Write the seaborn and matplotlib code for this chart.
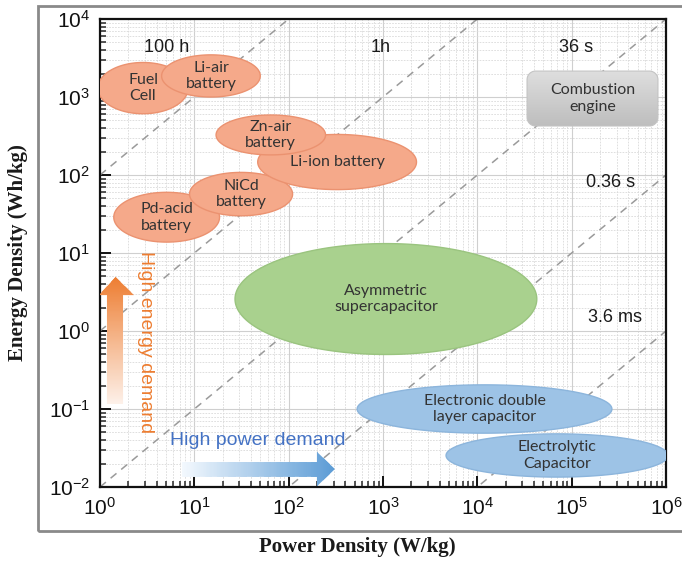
import numpy as np
import pandas as pd
import matplotlib
matplotlib.use("Agg")
import matplotlib.pyplot as plt
import seaborn as sns
from matplotlib.ticker import FuncFormatter, LogLocator, NullFormatter
from matplotlib.patches import Rectangle
from matplotlib.colors import to_rgb

# Storage technologies: power density span (W/kg) and energy density span (Wh/kg)
tech_names = ["Pd-acid\nbattery", "NiCd\nbattery", "Li-ion battery", "Zn-air\nbattery",
              "Fuel\nCell", "Li-air\nbattery", "Asymmetric\nsupercapacitor",
              "Electronic double\nlayer capacitor", "Electrolytic\nCapacitor"]
tech_group = ["battery", "battery", "battery", "battery", "battery", "battery",
              "supercap", "capacitor", "capacitor"]
power_lo = [1.4, 8.9, 47, 17, 0.95, 4.5, 27, 532, 4660]
power_hi = [18.5, 110, 2265, 246, 8.6, 50, 42700, 267000, 1.05e6]
energy_lo = [13.8, 30, 65, 181, 610, 1000, 0.5, 0.049, 0.0134]
energy_hi = [60, 108, 331, 588, 2770, 3470, 13.2, 0.204, 0.048]

# Combustion engine block
engine_power = [33650, 822000]
engine_energy = [425, 2150]

# Constant discharge-time lines (hours) and their labels
discharge_hours = [100, 1, 0.01, 1e-4, 1e-6]
time_labels = ["100 h", "1h", "36 s", "0.36 s", "3.6 ms"]
label_power = [5.1, 933, 112000, 257000, 288000]
label_energy = [4365, 4365, 4365, 81, 1.47]

group_face = {"battery": "#f5a98a", "supercap": "#a9d18e", "capacitor": "#9dc3e6"}
group_edge = {"battery": "#eb9270", "supercap": "#9ac47f", "capacitor": "#8cb5dc"}

sns.set_theme(style="white")
plt.rcParams["font.family"] = ["Liberation Sans", "DejaVu Sans"]
plt.rcParams["mathtext.fontset"] = "custom"
plt.rcParams["mathtext.rm"] = "Liberation Sans"
plt.rcParams["mathtext.it"] = "Liberation Sans:italic"

fig = plt.figure(figsize=(6.82, 5.62), dpi=100)
ax = fig.add_axes([100 / 682, 1 - 487 / 562, 566 / 682, 468 / 562])
ax.set_xscale("log")
ax.set_yscale("log")

# constant-time guide lines
p_range = np.array([1.0, 1e6])
lines_df = pd.concat([pd.DataFrame({"P": p_range, "E": p_range * t, "t": str(t)})
                      for t in discharge_hours], ignore_index=True)
for t, sub in lines_df.groupby("t", sort=False):
    sns.lineplot(data=sub, x="P", y="E", ax=ax, color="#9a9a9a", lw=1.1,
                 linestyle=(0, (5, 4)), zorder=2)

ax.set_xlim(1, 1e6)
ax.set_ylim(1e-2, 1e4)


def log_fill(lx, ly, **kw):
    return ax.fill(10 ** np.asarray(lx), 10 ** np.asarray(ly), **kw)[0]


def gradient_fill(lx, ly, c0, c1, direction, n=140, zorder=3):
    clip = log_fill(lx, ly, facecolor="none", edgecolor="none", zorder=zorder)
    c0, c1 = np.array(to_rgb(c0)), np.array(to_rgb(c1))
    lo = min(lx) if direction == "x" else min(ly)
    hi = max(lx) if direction == "x" else max(ly)
    edges = np.linspace(lo, hi, n + 1)
    eps = (hi - lo) / n * 0.6
    for i in range(n):
        f = (i + 0.5) / n
        col = (1 - f) * c0 + f * c1
        a, b = edges[i], edges[i + 1] + eps
        if direction == "x":
            sx, sy = [a, b, b, a], [min(ly), min(ly), max(ly), max(ly)]
        else:
            sx, sy = [min(lx), max(lx), max(lx), min(lx)], [a, a, b, b]
        strip = log_fill(sx, sy, color=col, lw=0, zorder=zorder)
        strip.set_clip_path(clip)
    return clip


# technology ellipses, built in log-space
theta = np.linspace(0, 2 * np.pi, 300)
for name, grp, p0, p1, e0, e1 in zip(tech_names, tech_group, power_lo, power_hi,
                                     energy_lo, energy_hi):
    cx, cy = (np.log10(p0) + np.log10(p1)) / 2, (np.log10(e0) + np.log10(e1)) / 2
    rx, ry = (np.log10(p1) - np.log10(p0)) / 2, (np.log10(e1) - np.log10(e0)) / 2
    log_fill(cx + rx * np.cos(theta), cy + ry * np.sin(theta),
             facecolor=group_face[grp], edgecolor=group_edge[grp], lw=1.0, zorder=3)
    ax.text(10 ** cx, 10 ** cy, name, ha="center", va="center", fontsize=11.5,
            family=["Lato", "DejaVu Sans"], color="#333333", linespacing=1.25, zorder=6)

# combustion engine: rounded box with a soft vertical gradient
x0, x1 = np.log10(engine_power)
y0, y1 = np.log10(engine_energy)
rxc, ryc = 0.09, 0.11
arc = np.linspace(0, np.pi / 2, 12)
bx = np.concatenate([x1 - rxc + rxc * np.cos(arc), x0 + rxc - rxc * np.sin(arc),
                     x0 + rxc - rxc * np.cos(arc), x1 - rxc + rxc * np.sin(arc)])
by = np.concatenate([y1 - ryc + ryc * np.sin(arc), y1 - ryc + ryc * np.cos(arc),
                     y0 + ryc - ryc * np.sin(arc), y0 + ryc - ryc * np.cos(arc)])
gradient_fill(bx, by, "#bdbdbd", "#dedede", "y")
log_fill(bx, by, facecolor="none", edgecolor="#c4c4c4", lw=0.8, zorder=4)
ax.text(np.sqrt(engine_power[0] * engine_power[1]), np.sqrt(engine_energy[0] * engine_energy[1]),
        "Combustion\nengine", ha="center", va="center", fontsize=11.5,
        family=["Lato", "DejaVu Sans"], color="#333333", linespacing=1.25, zorder=6)

# demand arrows
ox = [0.074, 0.244, 0.244, 0.36, 0.165, -0.011, 0.074]
oy = [-0.936, -0.936, 0.46, 0.46, 0.692, 0.46, 0.46]
gradient_fill(ox, oy, "#fdf1ea", "#ed7d31", "y")
bxa = [0.869, 2.30, 2.30, 2.49, 2.30, 2.30, 0.869]
bya = [-1.87, -1.87, -1.99, -1.77, -1.55, -1.68, -1.68]
gradient_fill(bxa, bya, "#f4f9fe", "#5b9bd5", "x")

ax.text(10 ** 0.48, 10 ** -0.14, "High energy demand", rotation=-90, ha="center",
        va="center", fontsize=14, color="#ed7d31", zorder=6)
ax.text(10 ** 1.675, 10 ** -1.40, "High power demand", ha="center", va="center",
        fontsize=14, color="#4472c4", zorder=6)

for lab, px, ey in zip(time_labels, label_power, label_energy):
    ax.text(px, ey, lab, ha="center", va="center", fontsize=13, color="#1a1a1a", zorder=6)

# grid, ticks, spines
ax.xaxis.set_major_locator(LogLocator(base=10, numticks=10))
ax.yaxis.set_major_locator(LogLocator(base=10, numticks=10))
ax.xaxis.set_minor_locator(LogLocator(base=10, subs=np.arange(2, 10), numticks=20))
ax.yaxis.set_minor_locator(LogLocator(base=10, subs=np.arange(2, 10), numticks=20))
ax.xaxis.set_minor_formatter(NullFormatter())
ax.yaxis.set_minor_formatter(NullFormatter())
fmt = FuncFormatter(lambda v, _: r"$\mathregular{10^{%d}}$" % int(round(np.log10(v))))
ax.xaxis.set_major_formatter(fmt)
ax.yaxis.set_major_formatter(fmt)
ax.grid(which="major", color="#cfcfcf", lw=0.8, ls="-", zorder=0)
ax.grid(which="minor", color="#d9d9d9", lw=0.6, ls=(0, (2, 1.5)), zorder=0)
ax.set_axisbelow(True)
ax.tick_params(which="major", direction="in", length=8, width=1.4, labelsize=15,
               colors="#111111", pad=7, top=False, right=False, bottom=True, left=True)
ax.tick_params(which="minor", direction="in", length=4.5, width=1.1,
               top=False, right=False, bottom=True, left=True)
for sp in ax.spines.values():
    sp.set_color("#111111")
    sp.set_linewidth(1.6)

ax.set_xlabel("Power Density (W/kg)", fontsize=15, fontweight="bold",
              family=["Liberation Serif"], color="#1a1a1a")
ax.set_ylabel("Energy Density (Wh/kg)", fontsize=15, fontweight="bold",
              family=["Liberation Serif"], color="#1a1a1a")
ax.xaxis.label.set_va("center")
ax.yaxis.label.set_va("center")
ax.xaxis.set_label_coords(0.454, -0.128)
ax.yaxis.set_label_coords(-0.145, 0.5)

# outer frame
fig.add_artist(Rectangle((38 / 682, 1 - 531 / 562), 1.0, 525 / 562,
                         transform=fig.transFigure, fill=False, ec="#8a8a8a", lw=2))

fig.savefig("out.png", dpi=100)
